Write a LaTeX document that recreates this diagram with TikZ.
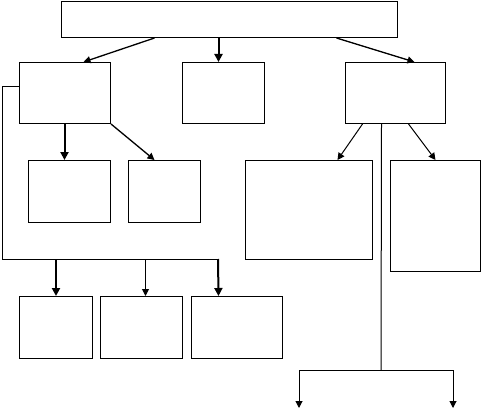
\documentclass[tikz,border=0pt]{standalone}
\usetikzlibrary{arrows.meta}
\begin{document}
\begin{tikzpicture}[x=1pt,y=-1pt,
  box/.style={draw,line width=1pt,inner sep=0pt,anchor=north west},
  arr/.style={line width=1pt,-{Triangle[length=7pt,width=7pt]}},
  thickarr/.style={line width=2pt,-{Triangle[length=8pt,width=8pt]}},
  midarr/.style={line width=1.3pt,-{Triangle[length=7pt,width=7pt]}},
  conn/.style={line width=1pt}]
\useasboundingbox (0,0) rectangle (481,409);
% boxes
\node[box,minimum width=336pt,minimum height=36pt] (top) at (61,1) {};
\node[box,minimum width=91pt,minimum height=61pt] (A) at (19,62) {};
\node[box,minimum width=82pt,minimum height=61pt] (B) at (182,62) {};
\node[box,minimum width=100pt,minimum height=61pt] (C) at (345,62) {};
\node[box,minimum width=82pt,minimum height=62pt] (D) at (28,160) {};
\node[box,minimum width=72pt,minimum height=62pt] (E) at (128,160) {};
\node[box,minimum width=127pt,minimum height=99pt] (F) at (245,160) {};
\node[box,minimum width=90pt,minimum height=111pt] (G) at (390,160) {};
\node[box,minimum width=73pt,minimum height=62pt] (H) at (19,296) {};
\node[box,minimum width=82pt,minimum height=62pt] (I) at (100,296) {};
\node[box,minimum width=91pt,minimum height=62pt] (J) at (191,296) {};
% top arrows
\draw[midarr] ([xshift=-75pt]top.south) -- ([xshift=18.5pt]A.north);
\draw[thickarr] ([xshift=-11pt]top.south) -- ([xshift=-5pt]B.north);
\draw[midarr] ([xshift=107pt]top.south) -- ([xshift=19pt]C.north);
% A children
\draw[thickarr] ([xshift=-0.5pt]A.south) -- ([xshift=-5pt]D.north);
\draw[midarr] (A.south east) -- ([xshift=-10pt]E.north);
% C children
\draw[arr] ([xshift=-33pt]C.south) -- ([xshift=28.5pt]F.north);
\draw[arr] ([xshift=13pt]C.south) -- ([xshift=0pt]G.north);
% left bracket
\coordinate (le) at (218,259);
\draw[conn] ([yshift=6.5pt]A.west) -- ++(-17,0) |- (le);
\draw[thickarr] (H.north |- le) -- (H.north);
\draw[arr] ([xshift=4pt]I.north |- le) -- ([xshift=4pt]I.north);
\draw[thickarr] (le) -- ([xshift=-18.5pt]J.north);
% right long line
\coordinate (cj) at (381,370);
\coordinate (e1) at (299,408);
\coordinate (e2) at (453,408);
\draw[conn] ([xshift=-14pt]C.south) -- (cj);
\draw[arr] (cj) -| (e1);
\draw[arr] (cj) -| (e2);
\end{tikzpicture}
\end{document}
